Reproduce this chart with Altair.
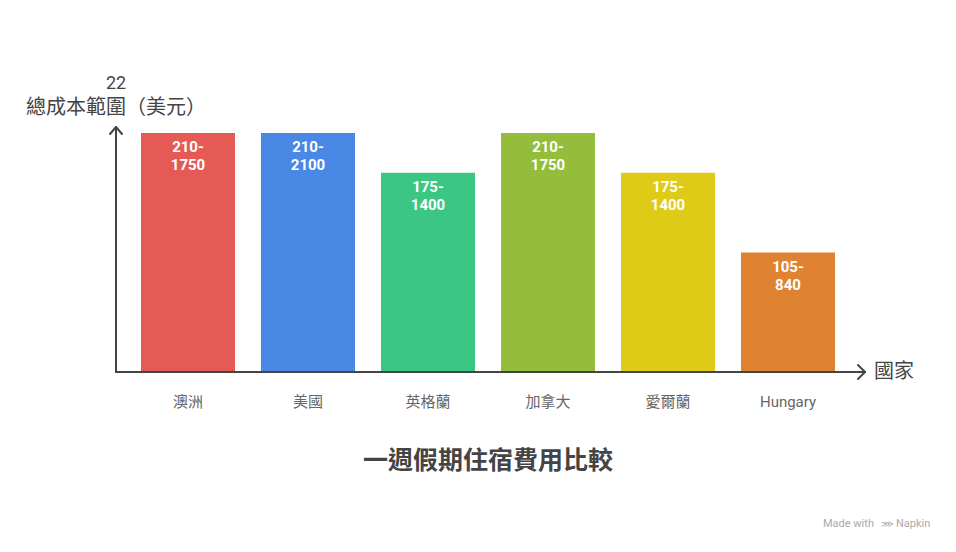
import altair as alt
import pandas as pd

countries = ["澳洲", "美國", "英格蘭", "加拿大", "愛爾蘭", "Hungary"]
bar_heights = [6, 6, 5, 6, 5, 3]
range_labels = ["210-\n1750", "210-\n2100", "175-\n1400", "210-\n1750", "175-\n1400", "105-\n840"]
bar_colors = ["#E55A54", "#4A88E5", "#3CC684", "#93BD3A", "#DECB17", "#DF8332"]

FONT = "Roboto, 'Noto Sans CJK TC', sans-serif"
AXIS_COLOR = "#444444"

df = pd.DataFrame({"country": countries, "h": bar_heights, "label": range_labels})
one = pd.DataFrame({"a": [0]})

x_enc = alt.X("country:N", sort=None, axis=None,
              scale=alt.Scale(range=[120, 840], paddingInner=0.2167, paddingOuter=0.1083))
y_scale = alt.Scale(domain=[0, 6], range=[364, 125], nice=False)

bars = alt.Chart(df).mark_bar().encode(
    x=x_enc,
    y=alt.Y("h:Q", scale=y_scale, axis=None),
    color=alt.Color("country:N", scale=alt.Scale(domain=countries, range=bar_colors), legend=None),
)

bar_text = alt.Chart(df).mark_text(
    baseline="top", dy=7, color="white", fontWeight="bold", fontSize=15,
    lineBreak="\n", lineHeight=18, font=FONT,
).encode(x=x_enc, y=alt.Y("h:Q", scale=y_scale, axis=None), text="label:N")

cat_text = alt.Chart(df).mark_text(fontSize=15, color="#666666", font=FONT, baseline="middle").encode(
    x=x_enc, y=alt.value(394), text="country:N"
)

def rule(x, y, x2, y2):
    return alt.Chart(one).mark_rule(color=AXIS_COLOR, strokeWidth=2, strokeCap="round").encode(
        x=alt.value(x), y=alt.value(y), x2=alt.value(x2), y2=alt.value(y2)
    )

axes = [
    rule(108, 364, 108, 119),
    rule(108, 364, 857, 364),
    rule(102, 126, 108, 119),
    rule(114, 126, 108, 119),
    rule(850, 357, 857, 364),
    rule(850, 371, 857, 364),
]

def label(text, x, y, size, color="#444444", align="center", weight="normal"):
    return alt.Chart(one).mark_text(
        text=text, fontSize=size, color=color, align=align, baseline="middle",
        fontWeight=weight, font=FONT,
    ).encode(x=alt.value(x), y=alt.value(y))

texts = [
    label("22", 108, 76, 18),
    label("總成本範圍（美元）", 108, 100, 20),
    label("國家", 866, 364, 20, align="left"),
    label("一週假期住宿費用比較", 480, 453, 25, weight="bold"),
    label("Made with", 815, 516, 11, color="#AAAAAA", align="left"),
    label("⋙", 873, 516, 9, color="#AAAAAA", align="left"),
    label("Napkin", 888, 516, 11, color="#AAAAAA", align="left"),
]

chart = alt.layer(bars, bar_text, cat_text, *axes, *texts).properties(
    width=940, height=536, autosize=alt.AutoSizeParams(type="none"), padding=0,
    background="white",
).configure_view(stroke=None)

chart.save("out.html", embed_options={"renderer": "svg", "actions": False})
